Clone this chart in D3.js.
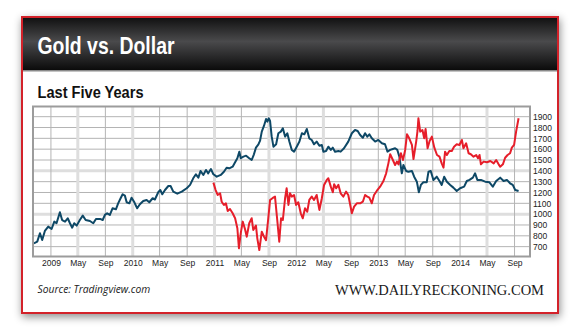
<!DOCTYPE html>
<html>
<head>
<meta charset="utf-8">
<script src="https://cdn.jsdelivr.net/npm/d3@7"></script>
<style>
  body { margin: 0; background: #fff; }
  svg { display: block; }
</style>
</head>
<body>
<div id="chart"></div>
<script>
// Chart data
var goldSeries = [
  ["2008-10-17",731],["2008-11-01",746],["2008-11-13",824],["2008-11-23",762],["2008-12-05",845],["2008-12-20",885],
  ["2009-01-04",863],["2009-01-16",931],["2009-01-26",916],["2009-02-10",1017],["2009-02-20",946],["2009-03-05",931],
  ["2009-03-17",962],["2009-03-27",916],["2009-04-06",875],["2009-04-15",916],["2009-04-26",894],["2009-05-10",946],
  ["2009-05-23",986],["2009-06-05",946],["2009-06-24",937],["2009-07-09",916],["2009-07-21",956],["2009-08-08",956],
  ["2009-08-20",946],["2009-08-30",993],["2009-09-09",1008],["2009-09-21",993],["2009-10-03",1054],["2009-10-18",1045],
  ["2009-10-28",1100],["2009-11-08",1147],["2009-11-17",1184],["2009-11-27",1171],["2009-12-05",1110],["2009-12-17",1100],
  ["2009-12-27",1152],["2010-01-07",1115],["2010-01-21",1054],["2010-02-02",1091],["2010-02-17",1122],["2010-03-04",1131],
  ["2010-03-16",1110],["2010-03-31",1147],["2010-04-10",1135],["2010-04-25",1202],["2010-05-04",1223],["2010-05-13",1184],
  ["2010-05-25",1223],["2010-06-09",1260],["2010-06-19",1260],["2010-07-01",1208],["2010-07-19",1189],["2010-08-08",1208],
  ["2010-08-30",1239],["2010-09-14",1270],["2010-09-28",1331],["2010-10-10",1368],["2010-10-21",1337],["2010-10-31",1399],
  ["2010-11-12",1362],["2010-11-24",1408],["2010-12-04",1377],["2010-12-16",1417],["2010-12-27",1368],["2011-01-11",1346],
  ["2011-01-29",1362],["2011-02-12",1392],["2011-02-24",1429],["2011-03-08",1423],["2011-03-23",1438],["2011-04-03",1479],
  ["2011-04-13",1516],["2011-04-22",1577],["2011-04-28",1516],["2011-05-10",1531],["2011-05-22",1540],["2011-06-05",1516],
  ["2011-06-16",1500],["2011-06-26",1553],["2011-07-05",1614],["2011-07-16",1645],["2011-07-23",1676],["2011-07-31",1762],
  ["2011-08-10",1817],["2011-08-19",1879],["2011-08-25",1854],["2011-08-31",1885],["2011-09-06",1860],["2011-09-13",1720],
  ["2011-09-21",1623],["2011-10-03",1645],["2011-10-13",1747],["2011-10-24",1762],["2011-11-02",1793],["2011-11-12",1716],
  ["2011-11-22",1747],["2011-12-01",1670],["2011-12-12",1593],["2011-12-22",1577],["2012-01-03",1623],["2012-01-15",1670],
  ["2012-01-26",1747],["2012-02-06",1737],["2012-02-17",1787],["2012-02-28",1700],["2012-03-10",1685],["2012-03-20",1645],
  ["2012-04-01",1670],["2012-04-13",1632],["2012-04-24",1639],["2012-05-01",1577],["2012-05-13",1583],["2012-05-23",1623],
  ["2012-06-03",1593],["2012-06-12",1614],["2012-06-22",1577],["2012-07-07",1583],["2012-07-17",1577],["2012-08-01",1608],
  ["2012-08-20",1670],["2012-09-05",1747],["2012-09-19",1777],["2012-10-01",1768],["2012-10-12",1731],["2012-10-24",1706],
  ["2012-11-03",1747],["2012-11-13",1716],["2012-11-22",1737],["2012-12-03",1700],["2012-12-18",1670],["2013-01-01",1685],
  ["2013-01-17",1654],["2013-01-31",1645],["2013-02-11",1577],["2013-02-23",1593],["2013-03-07",1602],["2013-03-17",1608],
  ["2013-03-27",1593],["2013-04-05",1531],["2013-04-16",1377],["2013-04-23",1454],["2013-05-05",1399],["2013-05-15",1392],
  ["2013-05-31",1399],["2013-06-10",1346],["2013-06-22",1300],["2013-07-01",1202],["2013-07-10",1270],["2013-07-21",1294],
  ["2013-08-05",1294],["2013-08-13",1392],["2013-08-23",1399],["2013-09-04",1316],["2013-09-19",1346],["2013-10-01",1306],
  ["2013-10-11",1270],["2013-10-22",1346],["2013-11-03",1300],["2013-11-18",1270],["2013-12-02",1245],["2013-12-17",1214],
  ["2014-01-01",1239],["2014-01-19",1254],["2014-01-31",1306],["2014-02-12",1316],["2014-02-27",1337],["2014-03-09",1377],
  ["2014-03-19",1316],["2014-04-04",1316],["2014-04-23",1300],["2014-05-12",1294],["2014-05-27",1254],["2014-06-11",1306],
  ["2014-06-29",1337],["2014-07-14",1306],["2014-07-29",1316],["2014-08-12",1285],["2014-08-24",1270],["2014-09-04",1223],
  ["2014-09-19",1214]
];

// dollar line, plotted on the same (gold) axis as in the picture
var dollarSeries = [
  ["2010-12-27",1291],["2011-01-06",1223],["2011-01-15",1177],["2011-01-26",1193],["2011-02-02",1115],["2011-02-12",1085],
  ["2011-02-21",1100],["2011-03-01",1030],["2011-03-11",1048],["2011-03-23",1008],["2011-04-03",962],["2011-04-13",870],
  ["2011-04-20",685],["2011-04-28",823],["2011-05-07",931],["2011-05-17",863],["2011-05-25",792],["2011-06-05",916],
  ["2011-06-16",962],["2011-06-23",854],["2011-07-05",894],["2011-07-11",777],["2011-07-20",669],["2011-07-31",838],
  ["2011-08-10",792],["2011-08-19",760],["2011-08-29",962],["2011-09-06",1130],["2011-09-18",1150],["2011-09-28",1162],
  ["2011-10-08",946],["2011-10-17",746],["2011-10-25",962],["2011-11-02",946],["2011-11-12",1147],["2011-11-19",1239],
  ["2011-11-27",1085],["2011-12-04",1193],["2011-12-12",1162],["2011-12-22",1177],["2011-12-31",1085],["2012-01-10",1110],
  ["2012-01-21",1008],["2012-01-30",962],["2012-02-09",1054],["2012-02-19",1023],["2012-02-28",1131],["2012-03-10",1162],
  ["2012-03-20",1131],["2012-04-01",1177],["2012-04-13",1039],["2012-04-24",1147],["2012-05-04",1270],["2012-05-16",1316],
  ["2012-05-23",1331],["2012-06-03",1254],["2012-06-12",1202],["2012-06-18",1276],["2012-06-27",1239],["2012-07-07",1270],
  ["2012-07-17",1193],["2012-07-29",1162],["2012-08-10",1208],["2012-08-20",1177],["2012-09-05",1008],["2012-09-15",1069],
  ["2012-09-27",1100],["2012-10-12",1100],["2012-10-24",1115],["2012-11-03",1177],["2012-11-13",1162],["2012-11-22",1152],
  ["2012-12-03",1100],["2012-12-13",1177],["2012-12-25",1214],["2013-01-09",1254],["2013-01-24",1306],["2013-02-05",1377],
  ["2013-02-15",1469],["2013-02-23",1554],["2013-03-07",1500],["2013-03-17",1454],["2013-03-25",1485],["2013-04-01",1460],
  ["2013-04-12",1562],["2013-04-21",1500],["2013-05-01",1593],["2013-05-09",1737],["2013-05-19",1700],["2013-05-31",1639],
  ["2013-06-07",1509],["2013-06-19",1670],["2013-06-25",1768],["2013-06-29",1885],["2013-07-07",1762],["2013-07-17",1777],
  ["2013-07-25",1700],["2013-07-31",1787],["2013-08-09",1608],["2013-08-18",1676],["2013-08-28",1716],["2013-09-08",1614],
  ["2013-09-20",1546],["2013-10-01",1531],["2013-10-11",1469],["2013-10-19",1429],["2013-10-26",1577],["2013-11-03",1546],
  ["2013-11-14",1583],["2013-11-25",1583],["2013-12-05",1623],["2013-12-17",1645],["2013-12-29",1639],["2014-01-09",1685],
  ["2014-01-16",1608],["2014-01-28",1654],["2014-02-08",1562],["2014-02-18",1553],["2014-03-02",1531],["2014-03-14",1546],
  ["2014-03-22",1516],["2014-03-29",1546],["2014-04-04",1460],["2014-04-16",1485],["2014-05-01",1479],["2014-05-16",1491],
  ["2014-05-31",1469],["2014-06-11",1500],["2014-06-22",1460],["2014-06-29",1438],["2014-07-11",1460],["2014-07-21",1521],
  ["2014-08-01",1546],["2014-08-12",1562],["2014-08-20",1614],["2014-08-30",1639],["2014-09-08",1762],["2014-09-19",1885]
];

var yTickValues = [700, 800, 900, 1000, 1100, 1200, 1300, 1400, 1500, 1600, 1700, 1800, 1900];
var yMajorGrid = [1000, 1400];

var xTickDates = ["2009-01-01","2009-05-01","2009-09-01","2010-01-01","2010-05-01","2010-09-01",
                  "2011-01-01","2011-05-01","2011-09-01","2012-01-01","2012-05-01","2012-09-01",
                  "2013-01-01","2013-05-01","2013-09-01","2014-01-01","2014-05-01","2014-09-01"];
var xTickLabels = ["2009","May","Sep","2010","May","Sep","2011","May","Sep",
                   "2012","May","Sep","2013","May","Sep","2014","May","Sep"];
var xMajorGrid = ["2009-05-01","2010-01-01","2011-01-01","2011-09-01","2012-05-01","2014-05-01"];

var xDomain = ["2008-10-13", "2014-11-09"];
var yDomain = [609, 1994];

// Set SVG Specs
var svgWidth = 580;
var svgHeight = 330;

var margin = { top: 106.5, left: 33 };
var width = 497;
var height = 150;

var parseDate = d3.timeParse("%Y-%m-%d");
var headFont = "'Liberation Sans', Arial, sans-serif";

var svg = d3.select("#chart")
  .append("svg")
  .attr("width", svgWidth)
  .attr("height", svgHeight);

var defs = svg.append("defs");

var shadow = defs.append("filter")
  .attr("id", "shadow")
  .attr("x", "-10%").attr("y", "-10%")
  .attr("width", "120%").attr("height", "125%");
shadow.append("feDropShadow")
  .attr("dx", 1).attr("dy", 3)
  .attr("stdDeviation", 4)
  .attr("flood-color", "#000")
  .attr("flood-opacity", 0.45);

var headGrad = defs.append("linearGradient")
  .attr("id", "headGrad")
  .attr("x1", 0).attr("y1", 0).attr("x2", 0).attr("y2", 1);
headGrad.append("stop").attr("offset", "0%").attr("stop-color", "#121212");
headGrad.append("stop").attr("offset", "45%").attr("stop-color", "#4a4a4c");
headGrad.append("stop").attr("offset", "100%").attr("stop-color", "#0b0b0b");

defs.append("clipPath").attr("id", "plotClip")
  .append("rect").attr("width", width).attr("height", height);

// Card
svg.append("rect")
  .attr("x", 22).attr("y", 17)
  .attr("width", 536).attr("height", 296)
  .attr("fill", "#fff")
  .attr("stroke", "#d3222a")
  .attr("stroke-width", 2)
  .attr("filter", "url(#shadow)");

svg.append("rect")
  .attr("x", 23).attr("y", 18)
  .attr("width", 534).attr("height", 52)
  .attr("fill", "url(#headGrad)");

svg.append("rect")
  .attr("x", 23).attr("y", 70)
  .attr("width", 534).attr("height", 1.5)
  .attr("fill", "#8a8a8a");

// condensed look: squeeze the bold face into the measured width
svg.append("text")
  .attr("x", 37.5).attr("y", 53.5)
  .attr("fill", "#fff")
  .attr("font-family", headFont)
  .attr("font-weight", "bold")
  .attr("font-size", "24px")
  .attr("textLength", 137)
  .attr("lengthAdjust", "spacingAndGlyphs")
  .text("Gold vs. Dollar");

svg.append("text")
  .attr("x", 37.5).attr("y", 97.5)
  .attr("fill", "#111")
  .attr("font-family", headFont)
  .attr("font-weight", "bold")
  .attr("font-size", "16px")
  .attr("textLength", 106)
  .attr("lengthAdjust", "spacingAndGlyphs")
  .text("Last Five Years");

// Scales
var xScale = d3.scaleTime()
  .domain(xDomain.map(parseDate))
  .range([0, width]);

var yScale = d3.scaleLinear()
  .domain(yDomain)
  .range([height, 0]);

var chartGroup = svg.append("g")
  .attr("transform", `translate(${margin.left}, ${margin.top})`);

// Gridlines
chartGroup.append("g")
  .selectAll("line")
  .data(yTickValues)
  .enter()
  .append("line")
  .attr("x1", 0).attr("x2", width)
  .attr("y1", d => yScale(d)).attr("y2", d => yScale(d))
  .attr("stroke", d => yMajorGrid.includes(d) ? "#dedede" : "#b4b4b4")
  .attr("stroke-width", d => yMajorGrid.includes(d) ? 3 : 1);

chartGroup.append("g")
  .selectAll("line")
  .data(xTickDates)
  .enter()
  .append("line")
  .attr("x1", d => xScale(parseDate(d))).attr("x2", d => xScale(parseDate(d)))
  .attr("y1", 0).attr("y2", height)
  .attr("stroke", d => xMajorGrid.includes(d) ? "#dedede" : "#b4b4b4")
  .attr("stroke-width", d => xMajorGrid.includes(d) ? 3 : 1);

// Lines
var line = d3.line()
  .x(d => xScale(parseDate(d[0])))
  .y(d => yScale(d[1]));

var lines = chartGroup.append("g").attr("clip-path", "url(#plotClip)");

lines.append("path")
  .datum(goldSeries)
  .attr("d", line)
  .attr("fill", "none")
  .attr("stroke", "#0e4866")
  .attr("stroke-width", 2)
  .attr("stroke-linejoin", "round");

lines.append("path")
  .datum(dollarSeries)
  .attr("d", line)
  .attr("fill", "none")
  .attr("stroke", "#e61e2a")
  .attr("stroke-width", 2)
  .attr("stroke-linejoin", "round");

// Plot frame
chartGroup.append("rect")
  .attr("width", width).attr("height", height)
  .attr("fill", "none")
  .attr("stroke", "#9c9c9c")
  .attr("stroke-width", 2);

// Axes
var rightAxis = d3.axisRight(yScale)
  .tickValues(yTickValues)
  .tickSize(0)
  .tickPadding(3)
  .tickFormat(d3.format("d"));

var bottomAxis = d3.axisBottom(xScale)
  .tickValues(xTickDates.map(parseDate))
  .tickSize(0)
  .tickPadding(3.5)
  .tickFormat((d, i) => xTickLabels[i]);

var yAxisG = chartGroup.append("g")
  .attr("transform", `translate(${width}, 0)`)
  .call(rightAxis);

var xAxisG = chartGroup.append("g")
  .attr("transform", `translate(0, ${height})`)
  .call(bottomAxis);

[yAxisG, xAxisG].forEach(function(g) {
  g.select(".domain").remove();
  g.selectAll("text")
    .attr("fill", "#222")
    .attr("font-family", "'Liberation Sans', Arial, sans-serif")
    .attr("font-size", "8.5px");
});

// Footer
svg.append("text")
  .attr("x", 37.5).attr("y", 292.5)
  .attr("fill", "#1a1a1a")
  .attr("font-family", "'Open Sans', sans-serif")
  .attr("font-style", "italic")
  .attr("font-size", "10.3px")
  .text("Source: Tradingview.com");

svg.append("text")
  .attr("x", 544).attr("y", 294.5)
  .attr("text-anchor", "end")
  .attr("fill", "#1a1a1a")
  .attr("font-family", "'Liberation Serif', 'DejaVu Serif', serif")
  .attr("font-size", "14.5px")
  .text("WWW.DAILYRECKONING.COM");
</script>
</body>
</html>
